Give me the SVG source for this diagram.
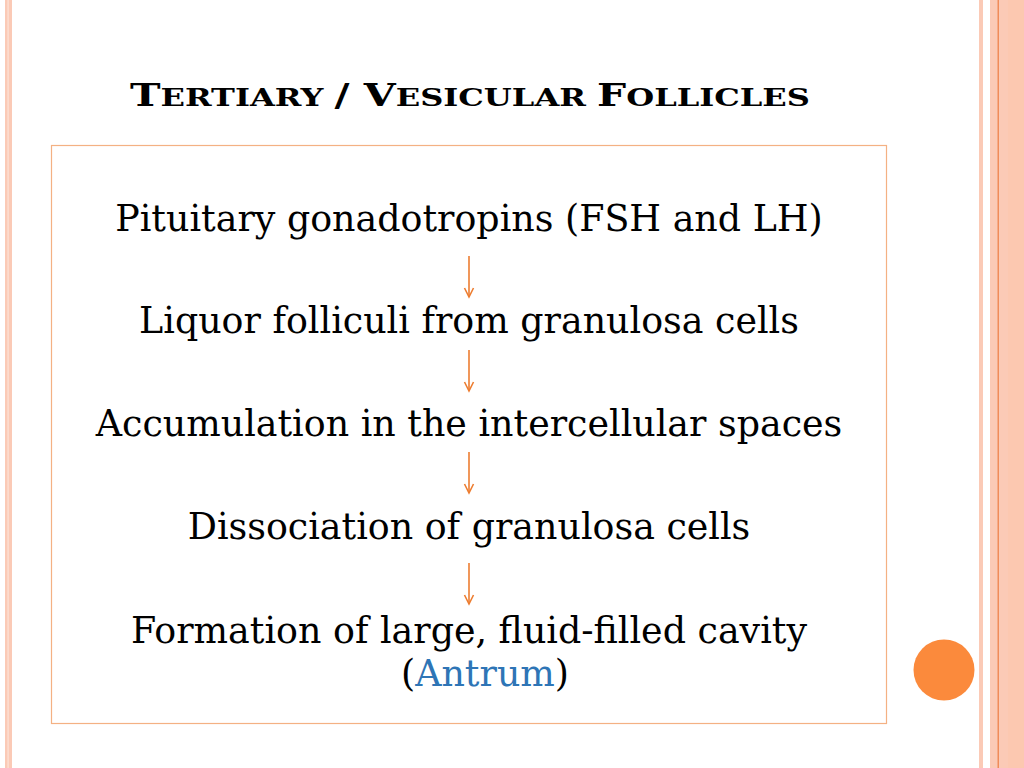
<svg xmlns="http://www.w3.org/2000/svg" width="1024" height="768" viewBox="0 0 1024 768">
<defs>
<style>
.t{font-family:"DejaVu Serif","Liberation Serif",serif;font-size:36.4px;fill:#000;text-anchor:middle}
.ttl{font-family:"DejaVu Serif","Liberation Serif",serif;font-weight:bold;fill:#000}
.arr{stroke:#ed7d31;stroke-width:1.6;fill:none}
</style>
<marker id="ah" markerWidth="12" markerHeight="12" refX="10" refY="6" orient="auto" markerUnits="userSpaceOnUse" viewBox="0 0 12 12">
<path d="M1,1.5 L10,6 L1,10.5" fill="none" stroke="#ed7d31" stroke-width="1.6"/>
</marker>
</defs>
<rect width="1024" height="768" fill="#fff"/>
<g id="frame">
<rect x="5" y="0" width="7" height="768" fill="#fbcab6"/>
<rect x="7.5" y="0" width="1.2" height="768" fill="#fde3d8"/>
<rect x="979" y="0" width="4" height="768" fill="#fbcab6"/>
<rect x="990" y="0" width="34" height="768" fill="#fbcab6"/>
<rect x="1008" y="0" width="16" height="768" fill="#fcc8b0"/>
<rect x="997.5" y="0" width="1.5" height="768" fill="#f08c5a"/>
<circle cx="944" cy="670" r="30.5" fill="#fb8a3c"/>
</g>
<g id="title">
<text class="ttl" x="130" y="106" textLength="680" lengthAdjust="spacingAndGlyphs"><tspan font-size="32">T</tspan><tspan font-size="25">ERTIARY </tspan><tspan font-size="32">/ V</tspan><tspan font-size="25">ESICULAR </tspan><tspan font-size="32">F</tspan><tspan font-size="25">OLLICLES</tspan></text>
</g>
<g id="box">
<rect x="51.5" y="145.5" width="835" height="578" fill="none" stroke="#f4b183" stroke-width="1.2"/>
</g>
<g id="n1"><text class="t" x="469" y="231">Pituitary gonadotropins (FSH and LH)</text></g>
<g id="n2"><text class="t" x="469" y="333">Liquor folliculi from granulosa cells</text></g>
<g id="n3"><text class="t" x="469" y="436">Accumulation in the intercellular spaces</text></g>
<g id="n4"><text class="t" x="469" y="539">Dissociation of granulosa cells</text></g>
<g id="n5"><text class="t" x="469" y="643">Formation of large, fluid-filled cavity</text><text class="t" x="485" y="686">(<tspan fill="#2e75b6">Antrum</tspan>)</text></g>
<g id="connectors">
<line class="arr" x1="469" y1="256" x2="469" y2="297" marker-end="url(#ah)"/>
<line class="arr" x1="469" y1="350" x2="469" y2="391" marker-end="url(#ah)"/>
<line class="arr" x1="469" y1="452" x2="469" y2="493" marker-end="url(#ah)"/>
<line class="arr" x1="469" y1="563" x2="469" y2="604" marker-end="url(#ah)"/>
</g>
</svg>
